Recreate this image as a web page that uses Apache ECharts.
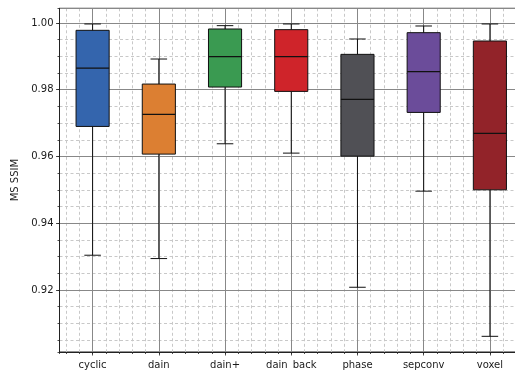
<!DOCTYPE html>
<html>
<head>
<meta charset="utf-8">
<script src="https://cdn.jsdelivr.net/npm/echarts@6/dist/echarts.min.js"></script>
<style>
html,body{margin:0;padding:0;background:#fff;overflow:hidden;width:515px;height:370px;}
#c{width:524px;height:370px;}
</style>
</head>
<body>
<div id="c"></div>
<script>
const categories = ['cyclic', 'dain', 'dain+', 'dain_back', 'phase', 'sepconv', 'voxel'];
const whiskerLow  = [0.9304, 0.9294, 0.9638, 0.9610, 0.9208, 0.9496, 0.9061];
const q1          = [0.9690, 0.9607, 0.9808, 0.9795, 0.9601, 0.9732, 0.9500];
const median      = [0.9865, 0.9726, 0.9899, 0.9899, 0.9771, 0.9854, 0.9669];
const q3          = [0.9978, 0.9817, 0.9982, 0.9980, 0.9906, 0.9971, 0.9946];
const whiskerHigh = [0.9997, 0.9892, 0.9992, 0.9997, 0.9952, 0.9991, 0.9997];
const boxColors = ['#3465ad', '#dc7f32', '#3a9a51', '#cf242a', '#505055', '#6b4c9a', '#922329'];

const data = categories.map((c, i) => [i, whiskerLow[i], q1[i], median[i], q3[i], whiskerHigh[i]]);

const chart = echarts.init(document.getElementById('c'), null, {renderer: 'canvas'});
const font = 'DejaVu Sans';
chart.setOption({
  animation: false,
  grid: {left: 59.5, top: 8.3, right: 1, bottom: 16, show: true, borderColor: '#222', borderWidth: 1, backgroundColor: 'transparent'},
  xAxis: [
    {
      type: 'value', min: -0.5, max: 6.5, splitNumber: 35, position: 'bottom', z: 0,
      axisLine: {show: false, onZero: false},
      axisTick: {show: true, inside: false, length: 2, lineStyle: {color: '#222', width: 0.8}},
      axisLabel: {show: false},
      splitLine: {show: true, lineStyle: {color: '#c8c8c8', type: [3, 2.5], width: 1}}
    },
    {
      type: 'value', min: -0.5, max: 6.5, splitNumber: 7, position: 'bottom', z: 1,
      axisLine: {show: true, onZero: false, lineStyle: {color: '#222', width: 1}},
      axisTick: {show: true, inside: false, length: 3.5, lineStyle: {color: '#222', width: 0.8}},
      axisLabel: {
        show: true, showMinLabel: false, showMaxLabel: false, margin: 8,
        fontFamily: font, fontSize: 10, color: '#1a1a1a',
        formatter: v => { const k = Math.round(v); return Math.abs(v - k) < 1e-6 && categories[k] !== undefined ? categories[k] : ''; }
      },
      splitLine: {show: true, lineStyle: {color: '#888', width: 1}}
    }
  ],
  yAxis: [
    {
      type: 'value', min: 0.9014, max: 1.0044, splitNumber: 20, position: 'left', z: 0,
      axisLine: {show: false, onZero: false},
      axisTick: {show: true, inside: false, length: 2, lineStyle: {color: '#222', width: 0.8}},
      axisLabel: {show: false},
      splitLine: {show: true, lineStyle: {color: '#c8c8c8', type: [3, 2.5], width: 1}}
    },
    {
      type: 'value', min: 0.9014, max: 1.0044, splitNumber: 5, position: 'left', z: 1,
      name: 'MS SSIM', nameLocation: 'middle', nameGap: 32,
      nameTextStyle: {fontFamily: font, fontSize: 10, color: '#1a1a1a'},
      axisLine: {show: true, onZero: false, lineStyle: {color: '#222', width: 1}},
      axisTick: {show: true, inside: false, length: 3.5, lineStyle: {color: '#222', width: 0.8}},
      axisLabel: {
        show: true, showMinLabel: false, showMaxLabel: false, margin: 6,
        fontFamily: font, fontSize: 10, color: '#1a1a1a',
        formatter: v => v.toFixed(2)
      },
      splitLine: {show: true, lineStyle: {color: '#888', width: 1}}
    }
  ],
  series: [{
    type: 'custom',
    xAxisIndex: 1, yAxisIndex: 1,
    data: data,
    clip: false,
    z: 5,
    renderItem: function (params, api) {
      const x = api.value(0);
      const i = params.dataIndex;
      const pLow = api.coord([x, api.value(1)]);
      const pQ1 = api.coord([x, api.value(2)]);
      const pMed = api.coord([x, api.value(3)]);
      const pQ3 = api.coord([x, api.value(4)]);
      const pHigh = api.coord([x, api.value(5)]);
      const bw = api.size([0.5, 0])[0];
      const cw = bw / 2;
      const cx = pMed[0];
      const ls = {stroke: '#111', lineWidth: 1, fill: null};
      return {
        type: 'group',
        children: [
          {type: 'line', shape: {x1: cx, y1: pQ1[1], x2: cx, y2: pLow[1]}, style: ls},
          {type: 'line', shape: {x1: cx, y1: pQ3[1], x2: cx, y2: pHigh[1]}, style: ls},
          {type: 'line', shape: {x1: cx - cw / 2, y1: pLow[1], x2: cx + cw / 2, y2: pLow[1]}, style: ls},
          {type: 'line', shape: {x1: cx - cw / 2, y1: pHigh[1], x2: cx + cw / 2, y2: pHigh[1]}, style: ls},
          {type: 'rect', shape: {x: cx - bw / 2, y: pQ3[1], width: bw, height: pQ1[1] - pQ3[1]},
            style: {fill: boxColors[i], stroke: '#111', lineWidth: 1}},
          {type: 'line', shape: {x1: cx - bw / 2, y1: pMed[1], x2: cx + bw / 2, y2: pMed[1]}, style: {stroke: '#111', lineWidth: 1.2}}
        ]
      };
    }
  }]
});
</script>
</body>
</html>
